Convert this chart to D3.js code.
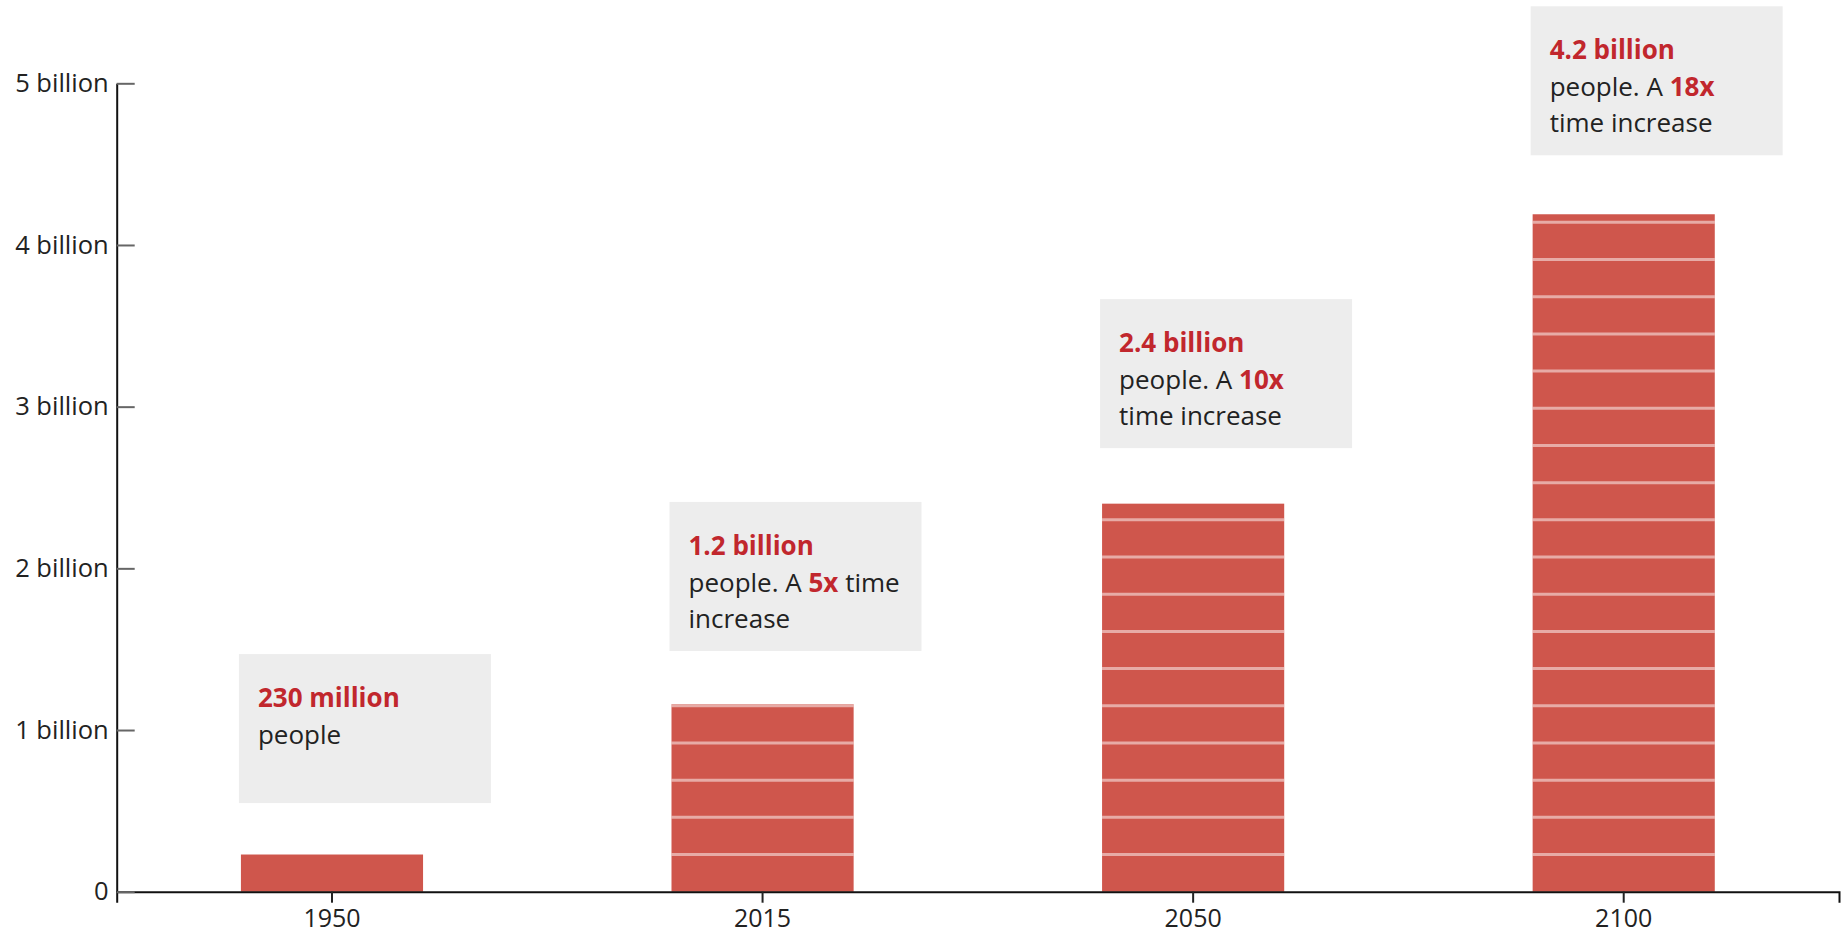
<!DOCTYPE html>
<html>
<head>
<meta charset="utf-8">
<script src="https://cdn.jsdelivr.net/npm/d3@7"></script>
<style>
  html, body { margin: 0; padding: 0; background: #fff; }
  svg { display: block; font-family: "Open Sans", sans-serif; }
</style>
</head>
<body>
<svg id="chart" width="1846" height="936"></svg>
<script>
// ---- data ----
const years = ["1950", "2015", "2050", "2100"];
const populations = [0.23, 1.16, 2.4, 4.19];           // billions (bar heights)
const unitSize = 0.23;                                  // one stripe = 230 million (1950 population)
const yTickValues = [0, 1, 2, 3, 4, 5];
const yTickLabels = ["0", "1 billion", "2 billion", "3 billion", "4 billion", "5 billion"];
// annotation text: each line is a list of [text, highlighted]
const annotations = [
  [[["230 million", true]], [["people", false]]],
  [[["1.2 billion", true]], [["people. A ", false], ["5x", true], [" time", false]], [["increase", false]]],
  [[["2.4 billion", true]], [["people. A ", false], ["10x", true]], [["time increase", false]]],
  [[["4.2 billion", true]], [["people. A ", false], ["18x", true]], [["time increase", false]]]
];

// ---- layout ----
const svg = d3.select("#chart");
const mLeft = 116.7, mRight = 1839, mTop = 83.3, mBottom = 891.7;

const x = d3.scaleBand().domain(years).range([mLeft, mRight])
  .paddingInner(0.577).paddingOuter(0.2885);
const y = d3.scaleLinear().domain([0, 5]).range([mBottom, mTop]);

const barColor = "#cf564c";
const red = "#c1272d";

// ---- bars ----
const bars = svg.append("g").selectAll("g.bar")
  .data(years.map((yr, i) => ({ year: yr, value: populations[i] })))
  .join("g").attr("class", "bar");

bars.append("rect")
  .attr("x", d => x(d.year))
  .attr("width", x.bandwidth())
  .attr("y", d => y(d.value))
  .attr("height", d => y(0) - y(d.value))
  .attr("fill", barColor);

bars.each(function (d) {
  const bounds = [];
  for (let k = 1; k * unitSize < d.value - 1e-9; k++) bounds.push(k * unitSize);
  d3.select(this).selectAll("line.stripe").data(bounds).join("line")
    .attr("class", "stripe")
    .attr("x1", x(d.year)).attr("x2", x(d.year) + x.bandwidth())
    .attr("y1", b => y(b)).attr("y2", b => y(b))
    .attr("stroke", "rgba(255,255,255,0.5)")
    .attr("stroke-width", 3);
});

// ---- annotation boxes ----
const boxW = 252, boxH = 149;
const boxGap = v => 51 + 1.9 * v;
const ann = svg.append("g").selectAll("g.ann")
  .data(years.map((yr, i) => ({ year: yr, value: populations[i], lines: annotations[i] })))
  .join("g").attr("class", "ann")
  .attr("transform", d => `translate(${x(d.year) - 2},${y(d.value) - boxGap(d.value) - boxH})`);

ann.append("rect")
  .attr("width", boxW).attr("height", boxH)
  .attr("fill", "#ededed");

ann.each(function (d) {
  const t = d3.select(this).append("text")
    .attr("font-size", 26)
    .attr("fill", "#222")
    .attr("xml:space", "preserve");
  d.lines.forEach((line, li) => {
    line.forEach((seg, si) => {
      const ts = t.append("tspan")
        .text(seg[0])
        .attr("fill", seg[1] ? red : "#222")
        .attr("font-weight", seg[1] ? 700 : 400)
        .style("white-space", "pre");
      if (si === 0) ts.attr("x", 19).attr("y", 53 + li * 36.6);
    });
  });
});

// ---- axes ----
const xAxis = d3.axisBottom(x).tickSizeInner(11).tickSizeOuter(11).tickPadding(7);
const gx = svg.append("g").attr("transform", `translate(0,${mBottom})`).call(xAxis);
gx.select(".domain").attr("stroke", "#111").attr("stroke-width", 2);
gx.selectAll(".tick line").attr("stroke", "#222").attr("stroke-width", 2);
gx.selectAll(".tick text").attr("font-size", 25).attr("fill", "#222")
  .attr("font-family", "Open Sans, sans-serif");

const yAxis = d3.axisLeft(y).tickValues(yTickValues)
  .tickFormat((d, i) => yTickLabels[i])
  .tickSizeInner(-18).tickSizeOuter(0).tickPadding(8);
const gy = svg.append("g").attr("transform", `translate(${mLeft},0)`).call(yAxis);
gy.select(".domain").attr("stroke", "#111").attr("stroke-width", 2);
gy.selectAll(".tick line").attr("stroke", "#666").attr("stroke-width", 2);
gy.selectAll(".tick text").attr("font-size", 25.5).attr("fill", "#222")
  .attr("font-family", "Open Sans, sans-serif");
</script>
</body>
</html>
